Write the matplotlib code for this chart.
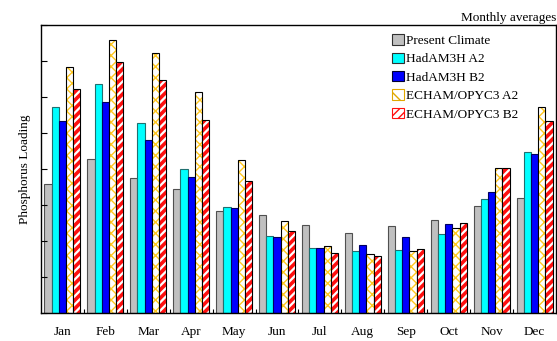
import matplotlib
matplotlib.use("Agg")
import matplotlib.pyplot as plt
import numpy as np
from matplotlib.patches import Patch

plt.rcParams['font.family'] = ['Liberation Serif', 'DejaVu Serif']

months = ["Jan", "Feb", "Mar", "Apr", "May", "Jun", "Jul", "Aug", "Sep", "Oct", "Nov", "Dec"]
present = [3.59, 4.28, 3.74, 3.44, 2.84, 2.73, 2.44, 2.23, 2.43, 2.58, 2.97, 3.19]
had_a2 = [5.73, 6.37, 5.29, 4.01, 2.94, 2.14, 1.80, 1.73, 1.76, 2.20, 3.18, 4.47]
had_b2 = [5.34, 5.86, 4.81, 3.79, 2.91, 2.12, 1.81, 1.88, 2.10, 2.48, 3.37, 4.41]
ech_a2 = [6.83, 7.58, 7.23, 6.14, 4.26, 2.55, 1.86, 1.65, 1.71, 2.36, 4.03, 5.71]
ech_b2 = [6.21, 6.97, 6.47, 5.35, 3.68, 2.27, 1.68, 1.59, 1.79, 2.51, 4.03, 5.34]
labels = ["Present Climate", "HadAM3H A2", "HadAM3H B2", "ECHAM/OPYC3 A2", "ECHAM/OPYC3 B2"]

fig = plt.figure(figsize=(5.57, 3.41), dpi=100)
ax = fig.add_axes([0.0736, 0.082, 0.9246, 0.8447])

x = np.arange(len(months))
w = 0.168
offs = (np.arange(5) - 2) * w

plt.rcParams['hatch.linewidth'] = 1.0
ax.bar(x + offs[0], present, w, color='#c0c0c0', edgecolor='#505050', linewidth=0.8)
ax.bar(x + offs[1], had_a2, w, color='#00ffff', edgecolor='#207070', linewidth=0.8)
ax.bar(x + offs[2], had_b2, w, color='#0000ff', edgecolor='#000060', linewidth=0.8)

# hatched bars: hatch layer + black outline
ax.bar(x + offs[3], ech_a2, w, color='white', edgecolor='#ffc820', linewidth=0, hatch='xxx')
ax.bar(x + offs[3], ech_a2, w, fill=False, edgecolor='black', linewidth=0.8)
plt.rcParams['hatch.linewidth'] = 2.6
ax.bar(x + offs[4], ech_b2, w, color='white', edgecolor='#ff1010', linewidth=0, hatch='////')
ax.bar(x + offs[4], ech_b2, w, fill=False, edgecolor='black', linewidth=0.8)

plt.rcParams['hatch.linewidth'] = 1.0
leg_handles = [
    Patch(facecolor='#c0c0c0', edgecolor='#303030', linewidth=0.8),
    Patch(facecolor='#00ffff', edgecolor='#303030', linewidth=0.8),
    Patch(facecolor='#0000ff', edgecolor='#000030', linewidth=0.8),
    Patch(facecolor='white', edgecolor='#e0a800', hatch='\\\\', linewidth=0.8),
    Patch(facecolor='white', edgecolor='#ff1010', hatch='////', linewidth=0.8),
]
ax.legend(leg_handles, labels, loc='upper right', bbox_to_anchor=(0.945, 1.0),
          frameon=False, fontsize=9.5, handlelength=0.85, handleheight=0.85,
          handletextpad=0.2, labelspacing=0.42, borderaxespad=0.3)

ax.set_xlim(-0.5, 11.5)
ax.set_ylim(0, 8)
ax.set_yticks(np.arange(0, 9, 1))
ax.set_yticklabels([])
ax.set_xticks(x)
ax.set_xticklabels(months, fontsize=9.5)
ax.set_xticks(np.arange(0.5, 11.5, 1), minor=True)
ax.tick_params(axis='x', which='major', length=0, pad=9)
ax.tick_params(axis='x', which='minor', direction='in', length=3, width=0.8)
ax.tick_params(axis='y', direction='in', length=4, width=0.8)
for s in ax.spines.values():
    s.set_linewidth(1.0)

ax.set_ylabel("Phosphorus Loading", fontsize=9.5, labelpad=4)
ax.set_title("Monthly averages", loc='right', fontsize=9.5, pad=3)

fig.savefig("out.png", dpi=100)
